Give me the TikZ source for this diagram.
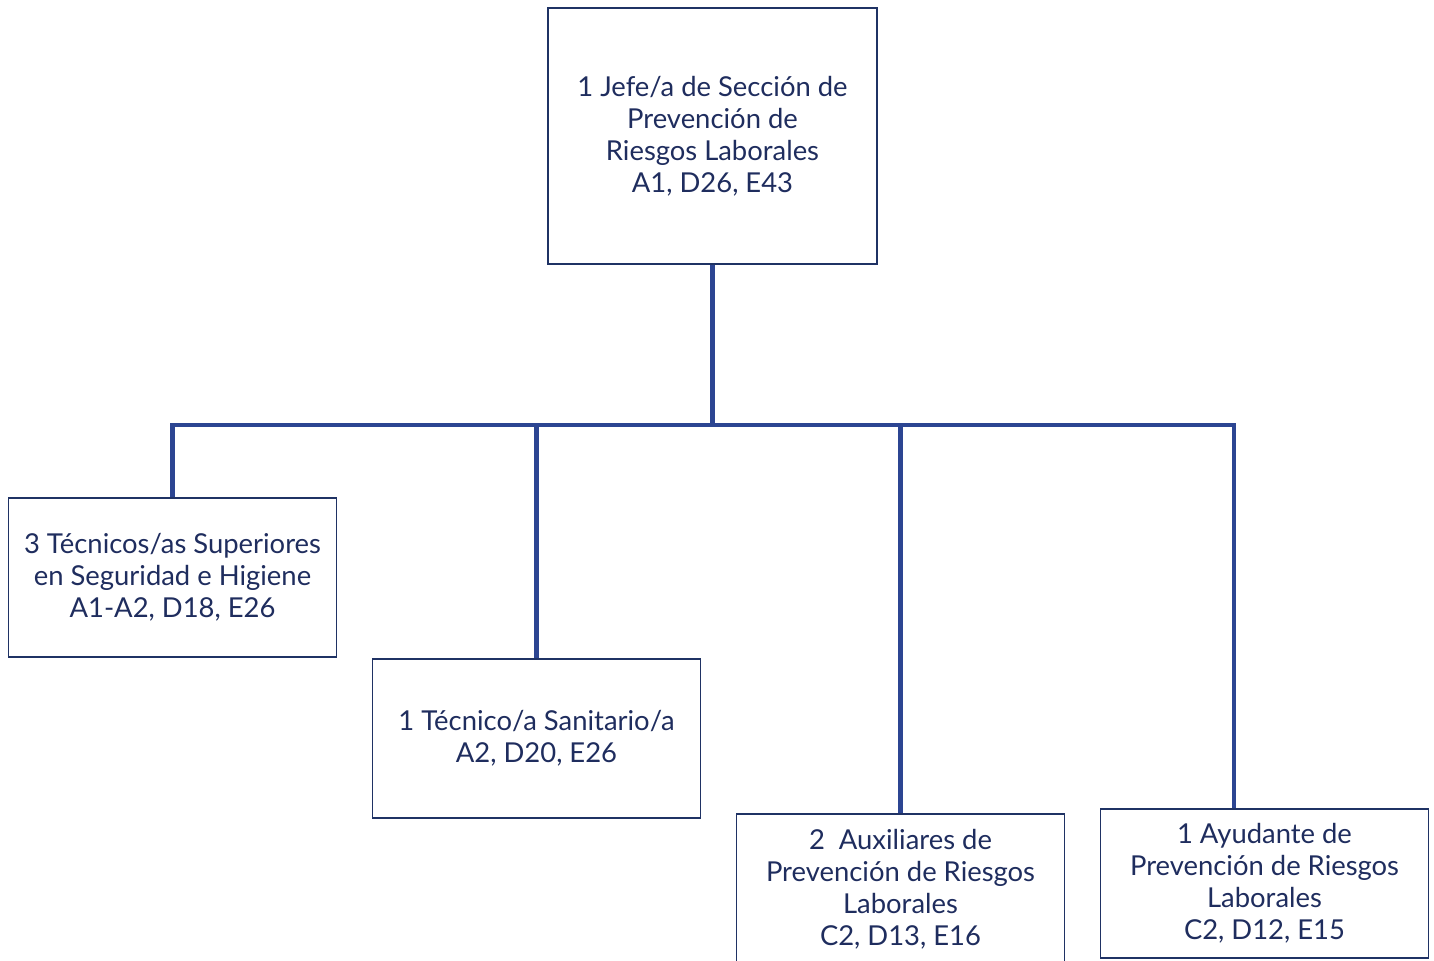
\documentclass[tikz,border=0pt]{standalone}
\usepackage{fontspec}
\setmainfont{Lato}
\usetikzlibrary{positioning}
\definecolor{boxline}{HTML}{1F3264}
\definecolor{linkline}{HTML}{2C4592}
\definecolor{boxtext}{HTML}{1F2D5E}
\tikzset
{
    chiefnode/.style = {rectangle, draw=boxline, line width=1.1pt, align=center, minimum width=6.58cm, minimum height=5.12cm, text=boxtext, font=\fontsize{15.6}{18.2}\selectfont},
    staffnode/.style = {rectangle, draw=boxline, line width=1.1pt, align=center, minimum width=6.56cm, minimum height=3.18cm, text=boxtext, font=\fontsize{15.6}{18.2}\selectfont}
}

\begin{document}
\begin{tikzpicture}[level 1/.style={sibling distance = 7.28cm, level distance = 8.83cm}, every child node/.style={xshift=1.2mm}, edge from parent/.style={draw=linkline, line width=2.8pt}, edge from parent path={(\tikzparentnode.south) -- ++(0,-3.2) -| (\tikzchildnode.north)}]
\useasboundingbox (0,0) rectangle (28.68,-19.22);
\node[chiefnode] (jefe) at (14.25,-2.72) {1 Jefe/a de Sección de\\Prevención de\\Riesgos Laborales\\A1, D26, E43}
child {
	node[staffnode] (tecsup) {3 Técnicos/as Superiores\\en Seguridad e Higiene\\A1-A2, D18, E26}
}
child {
	node[staffnode, yshift=-3.22cm] (tecsan) {1 Técnico/a Sanitario/a\\A2, D20, E26}
}
child {
	node[staffnode, minimum height=3cm, yshift=-6.23cm] (auxprl) {2\ \ Auxiliares de\\Prevención de Riesgos\\Laborales\\C2, D13, E16}
}
child[edge from parent path={(\tikzparentnode.south) -- ++(0,-3.2) -| ([xshift=-6.1mm]\tikzchildnode.north)}] {
	node[staffnode, minimum height=2.98cm, yshift=-6.12cm] (ayuprl) {1 Ayudante de\\Prevención de Riesgos\\Laborales\\C2, D12, E15}
};
\end{tikzpicture}
\end{document}
